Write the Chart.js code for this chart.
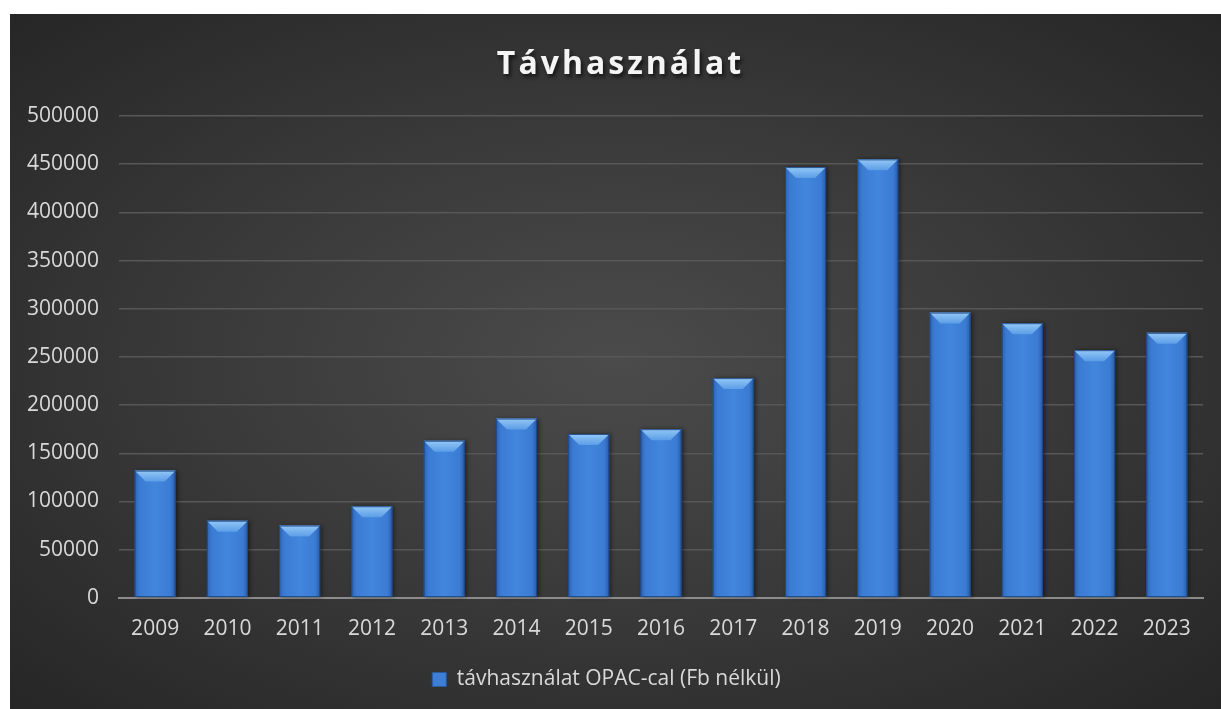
<!DOCTYPE html>
<html>
<head>
<meta charset="utf-8">
<script src="https://cdn.jsdelivr.net/npm/chart.js@4/dist/chart.umd.min.js"></script>
<style>
  html, body { margin: 0; padding: 0; background: #ffffff; }
  #wrap {
    position: absolute; left: 10px; top: 14px; width: 1211px; height: 695px;
    background: radial-gradient(ellipse farthest-corner at 50% 50%, #4b4b4b 0%, #3b3b3b 45%, #262626 100%);
  }
  #title {
    position: absolute; left: 10px; right: 0; top: 26px; text-align: center;
    font-family: "Open Sans", sans-serif; font-weight: bold; font-size: 32px;
    letter-spacing: 3px; color: #f4f4f4; line-height: 44px;
    text-shadow: 2px 3px 4px rgba(0, 0, 0, 0.65);
  }
  canvas { position: absolute; left: 0; top: 0; }
</style>
</head>
<body>
<div id="wrap">
  <canvas id="chart" width="1211" height="695"></canvas>
  <div id="title">Távhasználat</div>
</div>
<script>
// chart data
const years = ['2009', '2010', '2011', '2012', '2013', '2014', '2015', '2016',
               '2017', '2018', '2019', '2020', '2021', '2022', '2023'];
const remoteUse = [132000, 80000, 75000, 95000, 163000, 186000, 170000, 175000,
                   228000, 447000, 455000, 296000, 285000, 257000, 275000];
const seriesLabel = 'távhasználat OPAC-cal (Fb nélkül)';
const yMax = 500000;
const yStep = 50000;

const tickFont = { family: '"Open Sans", sans-serif', size: 21 };

// Paint the glossy bevel look on top of the plain bars
const bevelBars = {
  id: 'bevelBars',
  afterDatasetsDraw(chart) {
    const ctx = chart.ctx;
    const meta = chart.getDatasetMeta(0);
    meta.data.forEach(el => {
      const { x, y, base, width } = el.getProps(['x', 'y', 'base', 'width'], true);
      const left = x - width / 2;
      const right = x + width / 2;
      const top = Math.min(y, base);
      const bottom = Math.max(y, base);
      const b = 11;

      ctx.save();
      // body with horizontal shading
      const body = ctx.createLinearGradient(left, 0, right, 0);
      body.addColorStop(0, '#2c63b3');
      body.addColorStop(0.12, '#3b7bd3');
      body.addColorStop(0.5, '#4286dd');
      body.addColorStop(0.88, '#3b7bd3');
      body.addColorStop(1, '#285ba6');
      ctx.shadowColor = 'rgba(0,0,0,0.45)';
      ctx.shadowBlur = 4;
      ctx.shadowOffsetX = 2;
      ctx.fillStyle = body;
      ctx.fillRect(left, top, width, bottom - top);
      ctx.shadowColor = 'transparent';

      // top bevel
      const bev = ctx.createLinearGradient(0, top, 0, top + b);
      bev.addColorStop(0, '#94c8f7');
      bev.addColorStop(1, '#5b9de6');
      ctx.fillStyle = bev;
      ctx.beginPath();
      ctx.moveTo(left, top);
      ctx.lineTo(right, top);
      ctx.lineTo(right - b, top + b);
      ctx.lineTo(left + b, top + b);
      ctx.closePath();
      ctx.fill();

      // outline
      ctx.strokeStyle = 'rgba(30, 70, 130, 0.9)';
      ctx.lineWidth = 1;
      ctx.strokeRect(left + 0.5, top + 0.5, width - 1, bottom - top - 1);
      ctx.restore();
    });
  }
};

new Chart(document.getElementById('chart'), {
  type: 'bar',
  data: {
    labels: years,
    datasets: [{
      label: seriesLabel,
      data: remoteUse,
      backgroundColor: '#3d7fd7',
      borderColor: '#2a5a9c',
      borderWidth: 1,
      categoryPercentage: 0.8,
      barPercentage: 0.71
    }]
  },
  options: {
    responsive: false,
    animation: false,
    layout: { padding: { top: 102, right: 18, bottom: 9, left: 0 } },
    plugins: {
      title: { display: false },
      tooltip: { enabled: false },
      legend: {
        position: 'bottom',
        labels: {
          color: '#d9d9d9',
          font: tickFont,
          boxWidth: 14,
          boxHeight: 14,
          padding: 10
        }
      }
    },
    scales: {
      x: {
        grid: { display: false, drawTicks: false },
        border: { display: true, color: '#8c8c8c', width: 2 },
        ticks: { color: '#d9d9d9', font: tickFont, padding: 19, maxRotation: 0 },
        afterFit(scale) { scale.height -= 2; }
      },
      y: {
        min: 0,
        max: yMax,
        grid: { color: '#575757', lineWidth: 1.5, drawTicks: false },
        border: { display: false },
        ticks: {
          color: '#d9d9d9',
          font: tickFont,
          padding: 20,
          stepSize: yStep,
          callback: v => String(v)
        },
        afterFit(scale) { scale.width = 109; }
      }
    }
  },
  plugins: [bevelBars]
});
</script>
</body>
</html>
